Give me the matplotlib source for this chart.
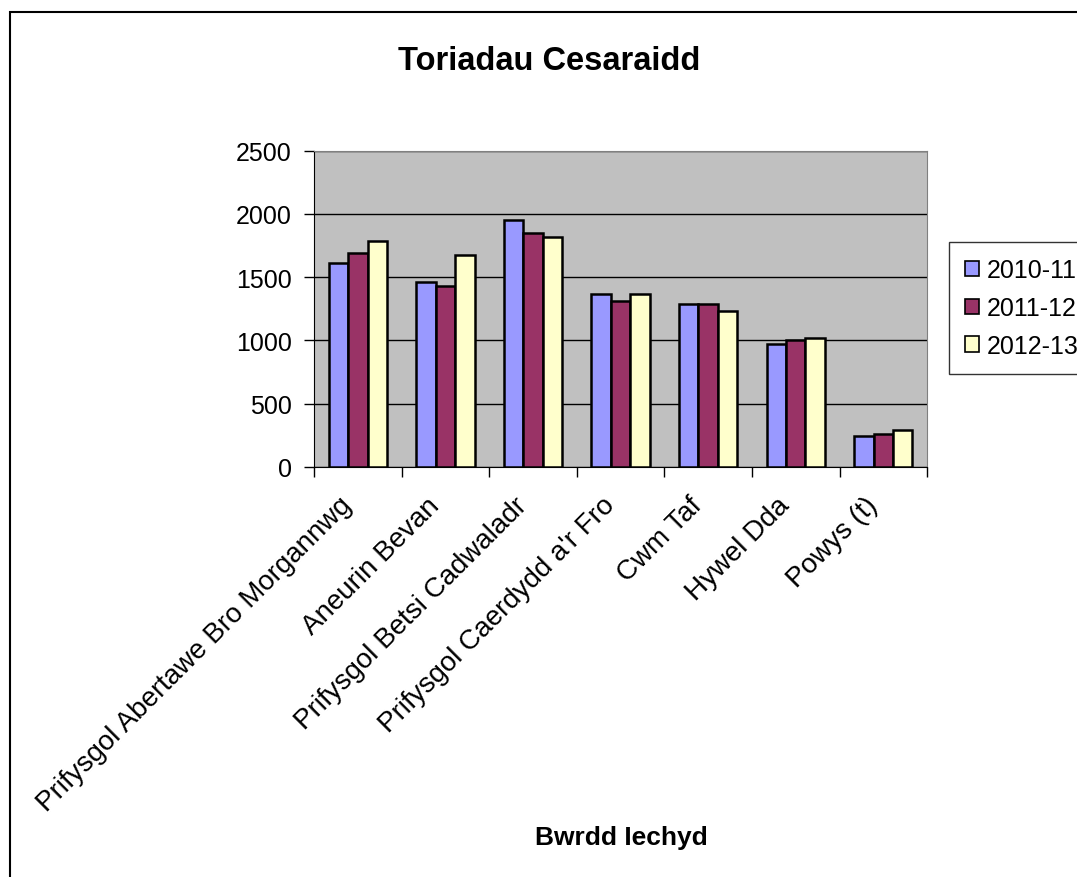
import matplotlib.pyplot as plt
from matplotlib.patches import Rectangle, Patch
from matplotlib.transforms import ScaledTranslation
import numpy as np

plt.rcParams['font.family'] = ['Liberation Sans', 'DejaVu Sans']

boards = ["Prifysgol Abertawe Bro Morgannwg", "Aneurin Bevan", "Prifysgol Betsi Cadwaladr",
          "Prifysgol Caerdydd a'r Fro", "Cwm Taf", "Hywel Dda", "Powys (t)"]
years = ["2010-11", "2011-12", "2012-13"]
v2010 = [1610, 1462, 1952, 1365, 1286, 975, 245]
v2011 = [1689, 1431, 1852, 1315, 1286, 1006, 261]
v2012 = [1789, 1673, 1820, 1365, 1233, 1022, 292]
colours = ["#9999FF", "#993366", "#FFFFCC"]

fig = plt.figure(figsize=(10.77, 8.78), dpi=100)
ax = fig.add_axes([0.2916, 0.467, 0.5692, 0.3602])
ax.set_facecolor("#C0C0C0")

x = np.arange(len(boards))
w = 1 / 4.5
for i, vals in enumerate([v2010, v2011, v2012]):
    ax.bar(x + (i - 1) * w, vals, w, color=colours[i], edgecolor="black", linewidth=1.8, zorder=3)

ax.set_xlim(-0.5, len(boards) - 0.5)
ax.set_ylim(0, 2500)
ax.set_yticks(range(0, 2501, 500))
ax.yaxis.grid(True, color="black", linewidth=1, zorder=1)
ax.set_axisbelow(True)
ax.tick_params(axis="y", labelsize=18, length=7, width=1, pad=9)

# category labels at centres, tick marks at group boundaries
ax.set_xticks(x)
ax.set_xticklabels(boards, rotation=45, ha="right", va="center", rotation_mode="anchor", fontsize=20)
ax.tick_params(axis="x", which="major", length=0, pad=26)
ax.set_xticks(np.arange(-0.5, len(boards)), minor=True)
ax.tick_params(axis="x", which="minor", length=7, width=1)
shift = ScaledTranslation(-10 / 100, 2 / 100, fig.dpi_scale_trans)
for lbl in ax.get_xticklabels():
    lbl.set_transform(lbl.get_transform() + shift)

for s in ["top", "right"]:
    ax.spines[s].set_color("#808080")
ax.spines["left"].set_color("black")
ax.spines["bottom"].set_color("black")

fig.text(0.510, 1 - 62 / 878, "Toriadau Cesaraidd", ha="center", va="center", fontsize=23.5, fontweight="bold")
fig.text(621 / 1077, 1 - 838 / 878, "Bwrdd Iechyd", ha="center", va="center", fontsize=19, fontweight="bold")

handles = [Patch(facecolor=c, edgecolor="black", linewidth=1.2) for c in colours]
leg = fig.legend(handles, years, loc="upper left", bbox_to_anchor=(949 / 1077, 1 - 243 / 878),
                 fontsize=18, frameon=True, fancybox=False, handlelength=0.56, handleheight=0.56,
                 handletextpad=0.3, labelspacing=0.55, borderpad=0.65, borderaxespad=0)
leg.get_frame().set_edgecolor("black")
leg.get_frame().set_linewidth(1)

# outer chart border (cut off at right and bottom)
fig.patches.append(Rectangle((10 / 1077, -0.1), 1.2, 1.1 - 13 / 878, transform=fig.transFigure,
                             fill=False, edgecolor="black", linewidth=1.5))

fig.savefig("out.png", dpi=100)
